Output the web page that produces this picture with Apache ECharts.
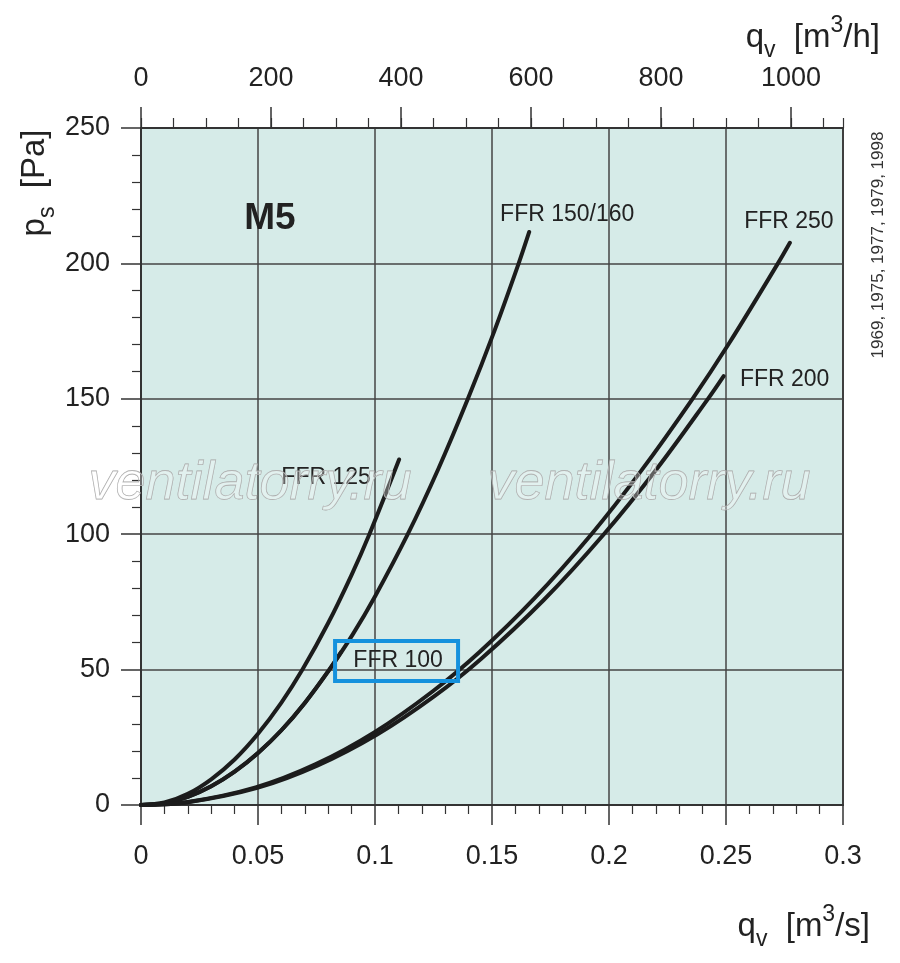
<!DOCTYPE html>
<html>
<head>
<meta charset="utf-8">
<script src="https://cdn.jsdelivr.net/npm/echarts@6/dist/echarts.min.js"></script>
<style>html,body{margin:0;padding:0;background:#fff}#main{width:900px;height:963px}</style>
</head>
<body>
<div id="main"></div>
<script>
// кривые сети: [q_v м3/с, p_s Па]
var ffr125 = [[0,0],[0.01,0.9],[0.02,4.1],[0.03,9.5],[0.04,16.8],[0.05,26.3],[0.06,37.8],[0.069,50],[0.08,67.2],[0.09,85],[0.0976,100],[0.1103,127.6]];
var ffr150 = [[0,0],[0.01,0.7],[0.02,3],[0.03,6.9],[0.04,12.3],[0.05,19.2],[0.06,27.6],[0.07,37.7],[0.0805,50],[0.0905,63],[0.1,77],[0.114,100],[0.127,124],[0.1397,150],[0.151,175],[0.1614,200],[0.1659,211.6]];
var ffr100 = [[0,0],[0.01,0.7],[0.02,3],[0.03,6.9],[0.04,12.3],[0.05,19.2],[0.06,27.6],[0.07,37.7],[0.0805,50],[0.0855,56.5]];
var ffr250 = [[0,0],[0.02,1.1],[0.049,6.5],[0.0745,15],[0.1,27],[0.1247,42],[0.1448,56.6],[0.1678,76],[0.1925,100],[0.2134,123],[0.2357,150],[0.2514,170.6],[0.2722,200],[0.2773,207.6]];
var ffr200 = [[0,0],[0.02,1],[0.0497,6.3],[0.0753,14.5],[0.1009,26],[0.1251,40],[0.1454,54],[0.1721,75.7],[0.1978,100],[0.2203,124],[0.2423,150],[0.249,158.4]];
var curveNames = ['FFR 125', 'FFR 150/160', 'FFR 100', 'FFR 250', 'FFR 200'];
var curves = [ffr125, ffr150, ffr100, ffr250, ffr200];

// верхняя шкала в м3/ч
var topMajor = [0, 200, 400, 600, 800, 1000];

var myChart = echarts.init(document.getElementById('main'));
var FONT = "'Liberation Sans', Arial, sans-serif";
var ink = '#222';

var gridBox = {left: 141, right: 57, top: 128, bottom: 158};

var option = {
  animation: false,
  backgroundColor: '#fff',
  grid: [
    Object.assign({show: true, backgroundColor: '#d6ebe8', borderColor: '#333', borderWidth: 2}, gridBox),
    Object.assign({show: false}, gridBox)
  ],
  xAxis: [
    {
      type: 'value', gridIndex: 0, position: 'bottom', min: 0, max: 0.3, interval: 0.05,
      axisLine: {show: true, onZero: false, lineStyle: {color: '#333', width: 2}},
      axisTick: {show: true, length: 20, lineStyle: {color: '#333', width: 1.5}},
      minorTick: {show: true, splitNumber: 5, length: 9, lineStyle: {color: '#333', width: 1.2}},
      splitLine: {show: true, lineStyle: {color: '#444', width: 1.5}},
      axisLabel: {margin: 38, fontSize: 27, color: ink, fontFamily: FONT}
    },
    {
      // короткие штрихи через 50 м3/ч
      type: 'value', gridIndex: 0, position: 'top', min: 0, max: 1080, interval: 50,
      axisLine: {show: true, onZero: false, lineStyle: {color: '#333', width: 2}},
      axisTick: {show: true, length: 10, lineStyle: {color: '#333', width: 1.2}},
      axisLabel: {show: true, customValues: topMajor, margin: 36, fontSize: 27, color: ink, fontFamily: FONT,
        formatter: function (v) { return String(v); }},
      splitLine: {show: false}
    },
    {
      // длинные штрихи через 200 м3/ч
      type: 'value', gridIndex: 1, position: 'top', min: 0, max: 1080,
      axisLine: {show: true, onZero: false, lineStyle: {color: '#333', width: 2}},
      axisTick: {show: true, length: 21, customValues: topMajor, lineStyle: {color: '#333', width: 1.5}},
      axisLabel: {show: false},
      splitLine: {show: false}
    }
  ],
  yAxis: [
    {
      type: 'value', gridIndex: 0, min: 0, max: 250, interval: 50,
      axisLine: {show: true, onZero: false, lineStyle: {color: '#333', width: 2}},
      axisTick: {show: true, length: 20, lineStyle: {color: '#333', width: 1.5}},
      minorTick: {show: true, splitNumber: 5, length: 9, lineStyle: {color: '#333', width: 1.2}},
      splitLine: {show: true, lineStyle: {color: '#444', width: 1.5}},
      axisLabel: {margin: 31, fontSize: 27, color: ink, fontFamily: FONT}
    },
    {type: 'value', gridIndex: 1, min: 0, max: 250, show: false}
  ],
  series: curves.map(function (d, i) {
    return {
      name: curveNames[i], type: 'line', xAxisIndex: 0, yAxisIndex: 0,
      data: d, smooth: 0.35, showSymbol: false, silent: true,
      lineStyle: {color: '#1c1c1c', width: 4, cap: 'round'}
    };
  })
};
myChart.setOption(option);

// подписи кривых — от конца кривой, смещение в пикселях
var labelShift = {
  'FFR 125': [-73, 18],
  'FFR 150/160': [38, -17],
  'FFR 100': [57, 9],
  'FFR 250': [-1, -21],
  'FFR 200': [61, 4]
};

var g = [];
curves.forEach(function (d, i) {
  var end = myChart.convertToPixel({gridIndex: 0}, d[d.length - 1]);
  var sh = labelShift[curveNames[i]];
  var cx = end[0] + sh[0], cy = end[1] + sh[1];
  g.push({type: 'text', x: cx, y: cy, z: 10,
    style: {text: curveNames[i], font: '23px ' + FONT, fill: ink, textAlign: 'center', textVerticalAlign: 'middle', align: 'center', verticalAlign: 'middle'}});
  if (curveNames[i] === 'FFR 100') {
    g.push({type: 'rect', z: 11, shape: {x: cx - 63, y: cy - 20, width: 123, height: 40},
      style: {fill: 'none', stroke: '#1591dd', lineWidth: 4}});
  }
});

// водяные знаки
[250, 649].forEach(function (x) {
  g.push({type: 'text', x: x, y: 484, z: 20,
    style: {text: 'ventilatorry.ru', font: 'italic 54px ' + FONT, fill: 'rgba(255,255,255,0.3)', stroke: '#a4a4a4', lineWidth: 0.8,
      textAlign: 'center', textVerticalAlign: 'middle', align: 'center', verticalAlign: 'middle'}});
});

g.push({type: 'text', x: 270, y: 219, z: 10,
  style: {text: 'M5', font: 'bold 37px ' + FONT, fill: ink, textAlign: 'center', textVerticalAlign: 'middle', align: 'center', verticalAlign: 'middle'}});

var richT = {
  n: {fontSize: 33, lineHeight: 48, verticalAlign: 'middle', fontFamily: FONT, color: ink},
  s: {fontSize: 23, lineHeight: 48, verticalAlign: 'bottom', fontFamily: FONT, color: ink},
  p: {fontSize: 23, lineHeight: 48, verticalAlign: 'top', fontFamily: FONT, color: ink}
};
function title(txt, x, y, align, rot) {
  return {type: 'text', x: x, y: y, rotation: rot || 0, z: 10,
    style: {text: txt, rich: richT, font: '33px ' + FONT, fill: ink,
      textAlign: align, textVerticalAlign: 'middle', align: align, verticalAlign: 'middle'}};
}
g.push(title('{n|q}{s|v}{n|  [m}{p|3}{n|/h]}', 880, 38, 'right'));
g.push(title('{n|q}{s|v}{n|  [m}{p|3}{n|/s]}', 870, 927, 'right'));
g.push(title('{n|p}{s|s}{n|  [Pa]}', 35, 183, 'center', Math.PI / 2));

g.push({type: 'text', x: 878, y: 245, rotation: Math.PI / 2, z: 10,
  style: {text: '1969, 1975, 1977, 1979, 1998', font: '17px ' + FONT, fill: '#333',
    textAlign: 'center', textVerticalAlign: 'middle', align: 'center', verticalAlign: 'middle'}});

myChart.setOption({graphic: g});
</script>
</body>
</html>
